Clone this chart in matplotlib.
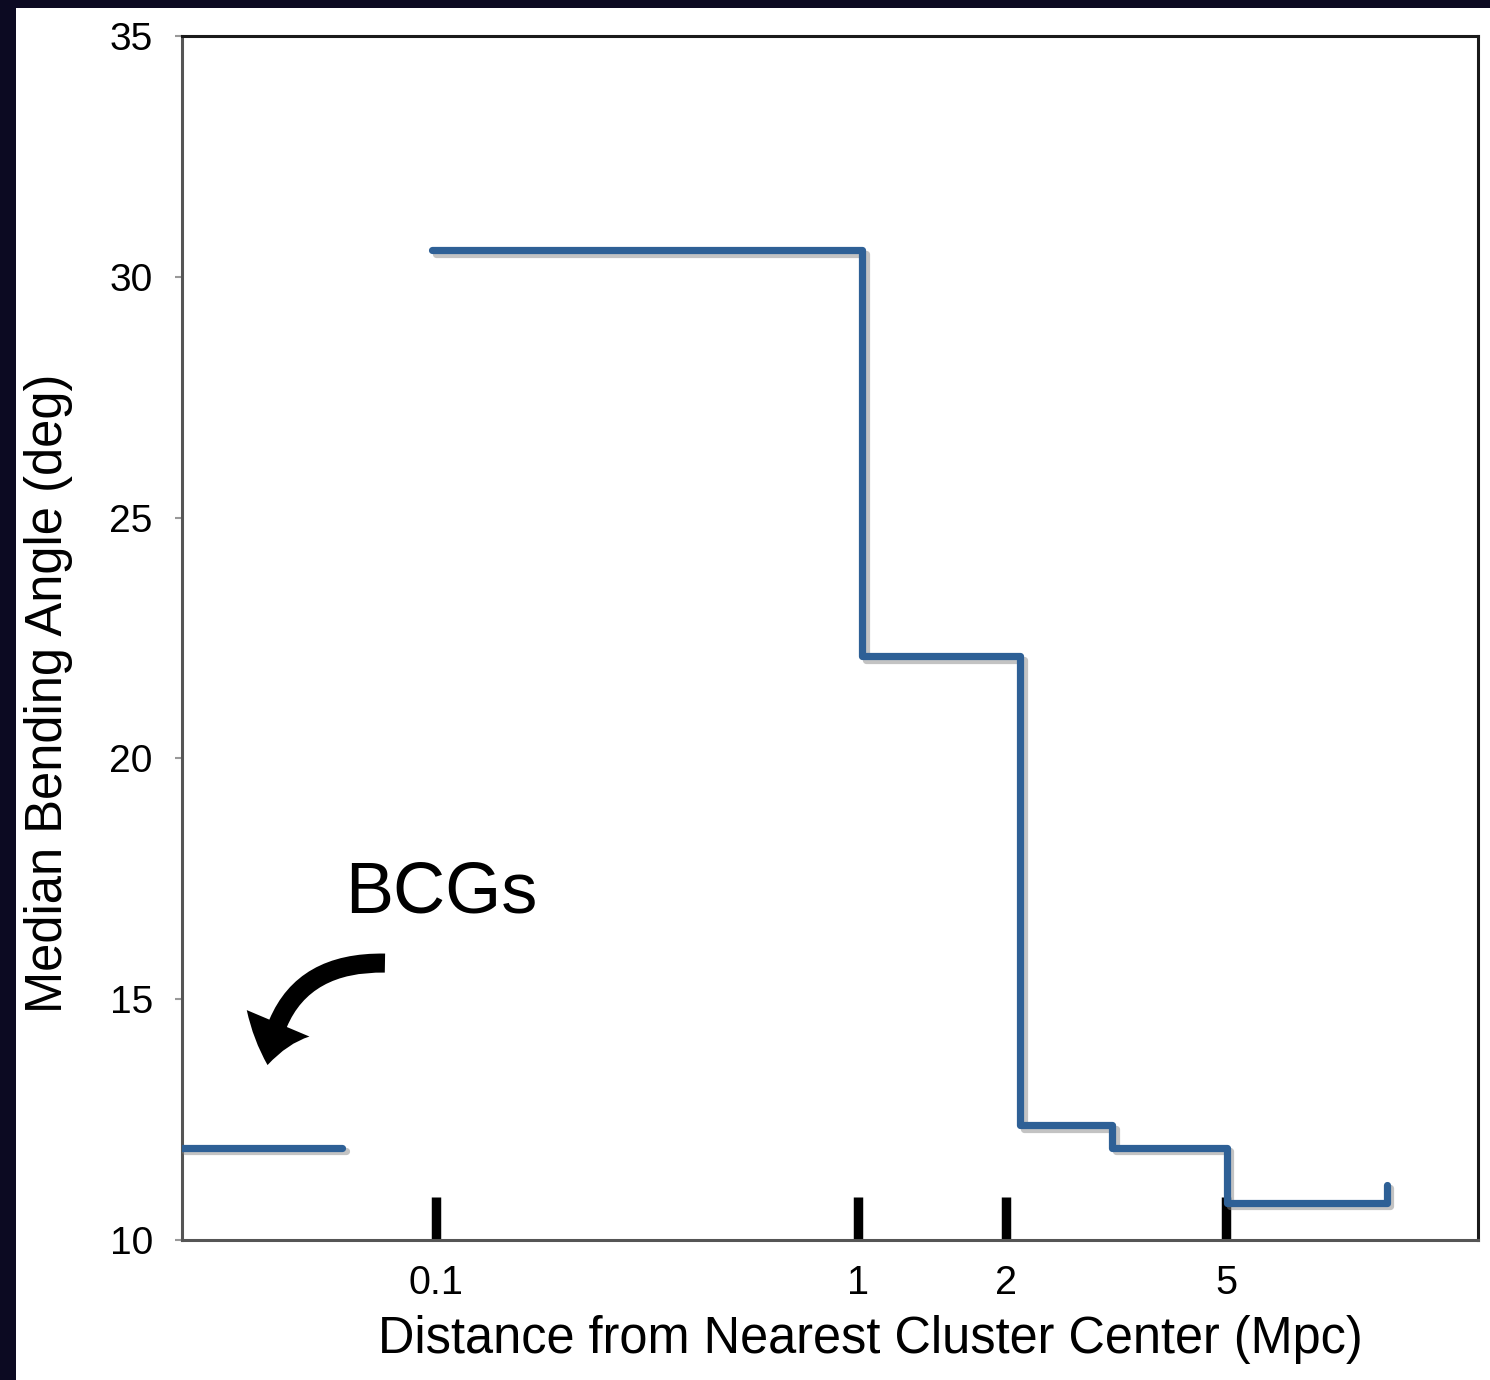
import numpy as np
import matplotlib
matplotlib.use("Agg")
import matplotlib.pyplot as plt
from matplotlib import patheffects
from matplotlib.patches import FancyArrowPatch, Rectangle

# step edges (Mpc) and median bending angle (deg), steps-post
dist_edges = [0.098, 1.02, 2.12, 3.11, 5.02, 9.77]
median_angle = [30.55, 22.12, 12.38, 11.92, 10.77, 11.15]

# BCG bin
bcg_dist = [0.025, 0.060]
bcg_angle = [11.92, 11.92]

xticks = [0.1, 1, 2, 5]
xtick_labels = ["0.1", "1", "2", "5"]
yticks = [10, 15, 20, 25, 30, 35]

# the original x axis is log-like but stretched above 1 Mpc
anchor_log = [-1.0, 0.0, np.log10(2), np.log10(5)]
anchor_pos = [-1.0, 0.0, 0.3507, 0.8720]
hi_slope = (anchor_pos[3] - anchor_pos[2]) / (anchor_log[3] - anchor_log[2])


def fwd(x):
    lx = np.log10(np.clip(x, 1e-6, None))
    out = np.interp(lx, anchor_log, anchor_pos)
    out = np.where(lx < anchor_log[0], lx, out)
    out = np.where(lx > anchor_log[-1],
                   anchor_pos[-1] + (lx - anchor_log[-1]) * hi_slope, out)
    return out


def inv(u):
    u = np.asarray(u, dtype=float)
    lx = np.interp(u, anchor_pos, anchor_log)
    lx = np.where(u < anchor_pos[0], u, lx)
    lx = np.where(u > anchor_pos[-1],
                  anchor_log[-1] + (u - anchor_pos[-1]) / hi_slope, lx)
    return 10 ** lx


plt.rcParams['font.family'] = ['Liberation Sans', 'DejaVu Sans']

fig = plt.figure(figsize=(14.9, 13.8), dpi=100)
fig.patch.set_facecolor("#0c0a22")
fig.patches.append(Rectangle((16 / 1490, 0), 1 - 16 / 1490, 1 - 8 / 1380,
                             transform=fig.transFigure, facecolor="white",
                             edgecolor="none", zorder=-10))

ax = fig.add_axes([182 / 1490, 1 - 1240 / 1380, 1296 / 1490, 1204 / 1380])
ax.set_facecolor("white")
ax.set_xscale("function", functions=(fwd, inv))
ax.set_xlim(inv(-1.602), inv(1.469))
ax.set_ylim(10, 35)

line_col = "#2e6096"
shadow = [patheffects.SimpleLineShadow(offset=(2.5, -2.5), shadow_color="#888888", alpha=0.5),
          patheffects.Normal()]
ax.plot(dist_edges, median_angle, drawstyle="steps-post", color=line_col,
        lw=5.2, solid_joinstyle="round", solid_capstyle="round",
        path_effects=shadow, zorder=3)
ax.plot(bcg_dist, bcg_angle, color=line_col, lw=5.2,
        solid_capstyle="round", path_effects=shadow, zorder=3)

ax.set_xticks(xticks)
ax.set_xticklabels(xtick_labels)
ax.xaxis.set_minor_locator(matplotlib.ticker.NullLocator())
ax.tick_params(axis="x", direction="in", length=31, width=6.8, color="black",
               labelsize=28.5, pad=17)
ax.set_yticks(yticks)
ax.tick_params(axis="y", direction="out", length=5, width=1.5, color="#999999",
               labelsize=28, pad=16)

for s in ["top", "right"]:
    ax.spines[s].set_color("#1a1a1a")
    ax.spines[s].set_linewidth(2.2)
for s in ["left", "bottom"]:
    ax.spines[s].set_color("#555555")
    ax.spines[s].set_linewidth(2.2)

ax.set_xlabel("Distance from Nearest Cluster Center (Mpc)", fontsize=36.4, labelpad=10)
ax.set_ylabel("Median Bending Angle (deg)", fontsize=36.5, labelpad=26)
ax.xaxis.label.set_x(0.531)
ax.yaxis.label.set_y(0.454)

ax.text(0.126, 0.272, "BCGs", transform=ax.transAxes, fontsize=52,
        ha="left", va="baseline")

arrow = FancyArrowPatch((0.1566, 0.230), (0.066, 0.1453), transform=ax.transAxes,
                        connectionstyle="arc3,rad=0.45",
                        arrowstyle="simple,head_length=31,head_width=49,tail_width=13.7",
                        shrinkA=0, shrinkB=0,
                        mutation_scale=1, color="black", lw=0, zorder=4)
ax.add_patch(arrow)

fig.savefig("out.png", dpi=100, facecolor=fig.get_facecolor())
